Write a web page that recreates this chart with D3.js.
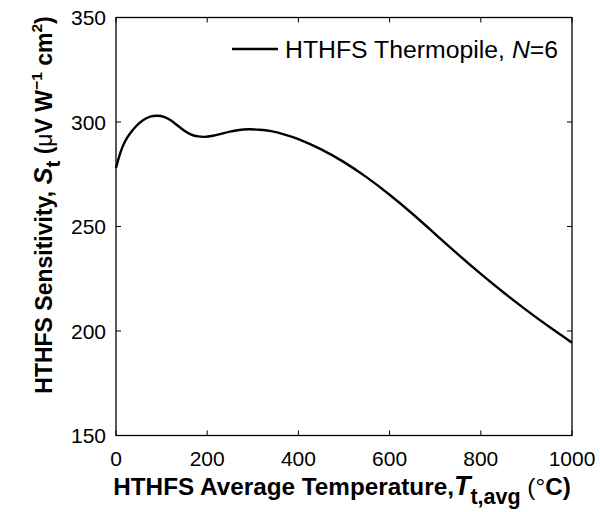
<!DOCTYPE html>
<html><head><meta charset="utf-8">
<script src="https://cdn.jsdelivr.net/npm/d3@7"></script>
<style>body{margin:0;background:#fff;} svg{display:block;font-family:"Liberation Sans",Arial,sans-serif;}</style>
</head><body><svg id="c" width="600" height="512"></svg>
<script>
const temperature = [0,10,20,30,45,60,75,90,105,120,135,150,165,180,195,210,230,250,270,290,315,340,370,400,450,500,550,600,650,700,750,800,850,900,950,1000];
const sensitivity = [278,285.6,290.8,294.3,298.2,301,302.6,303,302.5,300.8,298.3,295.8,294,293.1,292.9,293.3,294.3,295.4,296.2,296.5,296.3,295.6,294,291.8,286.9,280.8,273.5,265.2,256.1,246.4,236.7,227.3,218.4,210,202,194.4];
const xTicks = [0,200,400,600,800,1000];
const yTicks = [150,200,250,300,350];
const seriesName = "HTHFS Thermopile, ";

const svg = d3.select("#c");
const L=116, R=572, T=17.5, B=435.5;
const x = d3.scaleLinear().domain([0,1000]).range([L,R]);
const y = d3.scaleLinear().domain([150,350]).range([B,T]);

const g = svg.append("g");
xTicks.forEach(v=>{
  g.append("line").attr("x1",x(v)).attr("x2",x(v)).attr("y1",B).attr("y2",B-5).attr("stroke","#000");
  g.append("line").attr("x1",x(v)).attr("x2",x(v)).attr("y1",T).attr("y2",T+5).attr("stroke","#000");
  g.append("text").attr("x",x(v)).attr("y",466).attr("text-anchor","middle").attr("font-size",21).text(v);
});
yTicks.forEach(v=>{
  g.append("line").attr("x1",L).attr("x2",L+5).attr("y1",y(v)).attr("y2",y(v)).attr("stroke","#000");
  g.append("line").attr("x1",R).attr("x2",R-5).attr("y1",y(v)).attr("y2",y(v)).attr("stroke","#000");
  g.append("text").attr("x",106).attr("y",y(v)).attr("dy","0.36em").attr("text-anchor","end").attr("font-size",21).text(v);
});
svg.append("rect").attr("x",L).attr("y",T).attr("width",R-L).attr("height",B-T).attr("fill","none").attr("stroke","#000").attr("stroke-width",1.3);

const line = d3.line().x((d,i)=>x(temperature[i])).y(d=>y(d)).curve(d3.curveNatural);
svg.append("path").attr("d",line(sensitivity)).attr("fill","none").attr("stroke","#000").attr("stroke-width",2.4);

// legend
svg.append("line").attr("x1",232).attr("x2",278).attr("y1",49).attr("y2",49).attr("stroke","#000").attr("stroke-width",2.4);
const lt = svg.append("text").attr("x",285).attr("y",49).attr("dy","0.36em").attr("font-size",24.8);
lt.append("tspan").text(seriesName);
lt.append("tspan").attr("font-style","italic").text("N");
lt.append("tspan").text("=6");

// x title
const xt = svg.append("text").attr("x",342).attr("y",495).attr("text-anchor","middle").attr("font-size",24.3).attr("font-weight","bold");
xt.append("tspan").text("HTHFS Average Temperature,");
xt.append("tspan").attr("font-style","italic").attr("font-size",27).text("T");
xt.append("tspan").attr("font-size",21.5).attr("dy",9).text("t,avg");
xt.append("tspan").attr("dy",-9).attr("font-weight","normal").text(" (");
xt.append("tspan").attr("font-weight","normal").text("°");
xt.append("tspan").text("C)");

// y title
const yt = svg.append("text").attr("transform","translate(52,205) rotate(-90)").attr("text-anchor","middle").attr("font-size",23).attr("font-weight","bold");
yt.append("tspan").text("HTHFS Sensitivity, ");
yt.append("tspan").attr("font-style","italic").attr("font-size",25.5).text("S");
yt.append("tspan").attr("font-size",20.5).attr("dy",8).text("t");
yt.append("tspan").attr("dy",-8).text(" (");
yt.append("tspan").attr("font-weight","normal").text("μ");
yt.append("tspan").text("V W");
yt.append("tspan").attr("font-size",15.5).attr("dy",-10).text("−1");
yt.append("tspan").attr("dy",10).text(" cm");
yt.append("tspan").attr("font-size",15.5).attr("dy",-10).text("2");
yt.append("tspan").attr("dy",10).text(")");
</script></body></html>
